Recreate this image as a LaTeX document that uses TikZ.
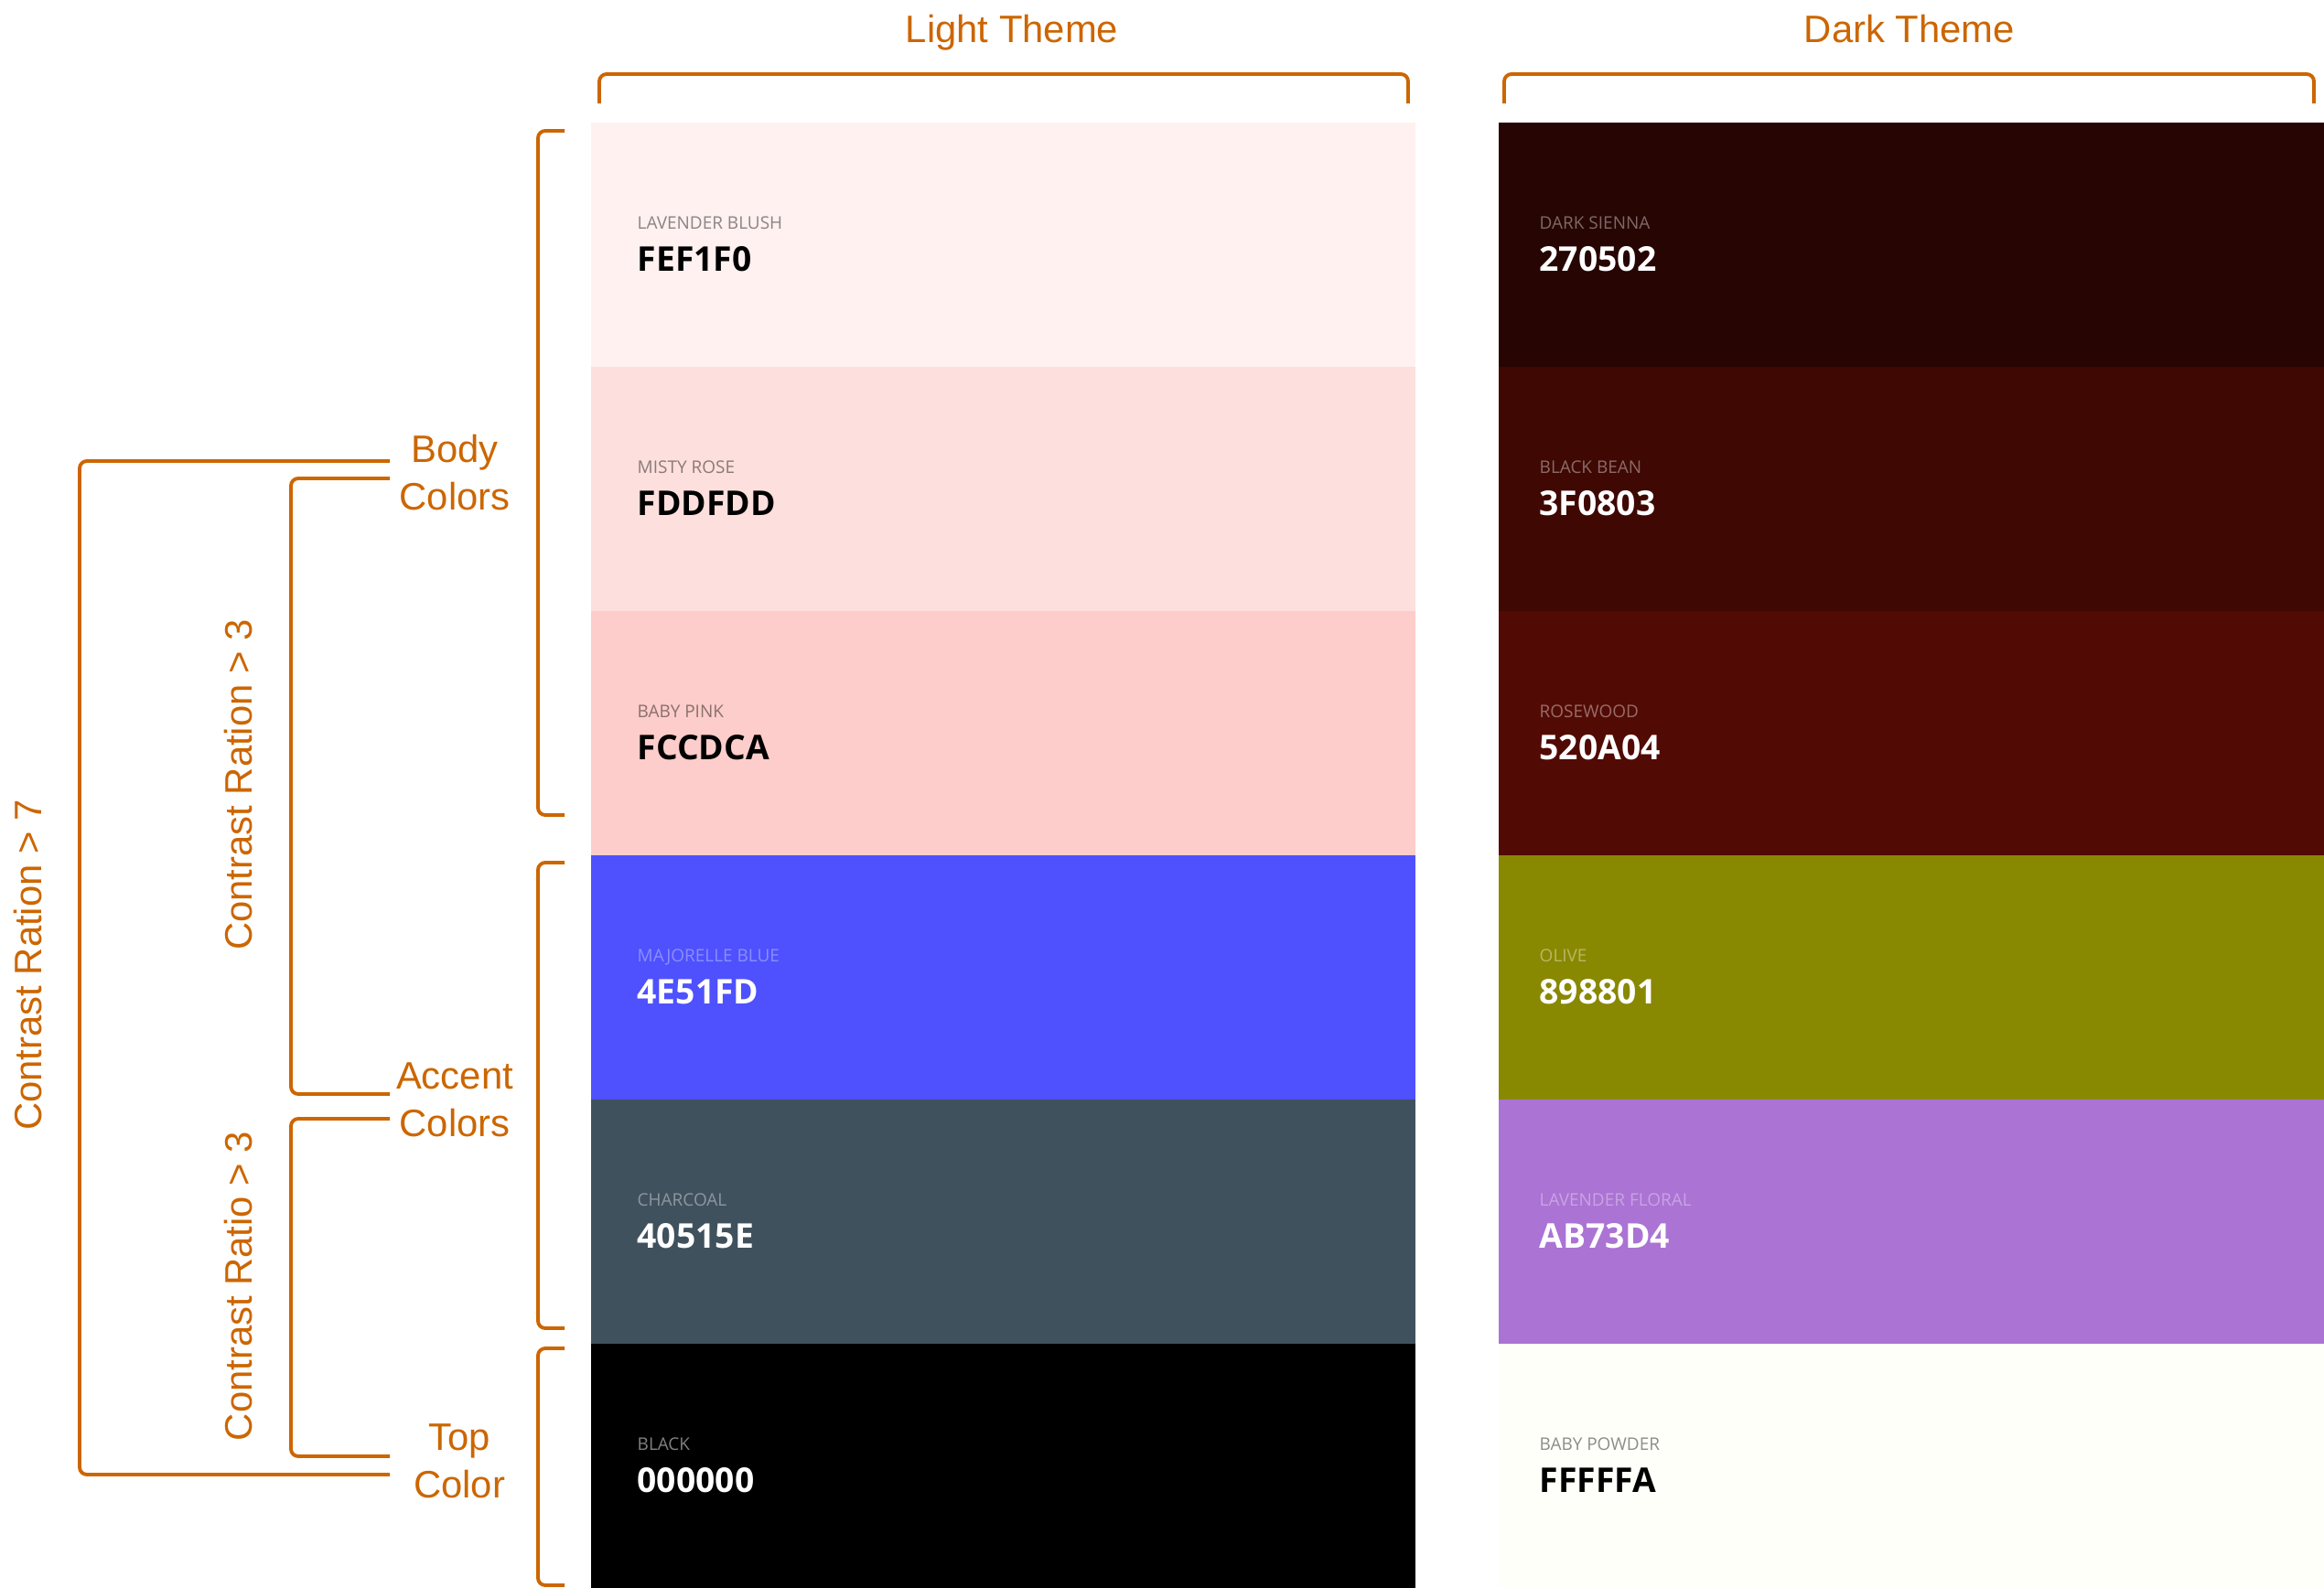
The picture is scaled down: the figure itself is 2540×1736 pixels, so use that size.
\documentclass[tikz,border=0pt]{standalone}
\usepackage{fontspec}
\setmainfont{Liberation Sans}
\newfontfamily\swfont{Open Sans}
\definecolor{accent}{RGB}{204,102,0}
\definecolor{LA}{HTML}{FEF1F0}
\definecolor{LB}{HTML}{FDDFDD}
\definecolor{LC}{HTML}{FCCDCA}
\definecolor{LD}{HTML}{4E51FD}
\definecolor{LE}{HTML}{40515E}
\definecolor{LF}{HTML}{000000}
\definecolor{DA}{HTML}{270502}
\definecolor{DB}{HTML}{3F0803}
\definecolor{DC}{HTML}{520A04}
\definecolor{DD}{HTML}{898801}
\definecolor{DE}{HTML}{AB73D4}
\definecolor{DF}{HTML}{FFFFFA}
\begin{document}
\begin{tikzpicture}[x=0.1mm,y=-0.1mm,
  br/.style={draw=accent, line width=1.1pt, rounded corners=0.8mm},
  lbl/.style={text=accent, font=\fontsize{11.9}{14.8}\selectfont, align=center, inner sep=0},
  ttl/.style={text=accent, font=\fontsize{11.9}{14.8}\selectfont, anchor=base, inner sep=0},
  nmtext/.style={anchor=base west, inner sep=0, font=\swfont\fontsize{5.4}{6}\selectfont},
  hxtext/.style={anchor=base west, inner sep=0, font=\swfont\bfseries\fontsize{10.6}{12}\selectfont}]
\fill[white] (0,0) rectangle (2540,1736);
\useasboundingbox (0,0) rectangle (2540,1736);

% light swatches
\foreach \i/\col/\nm/\hx/\tc/\lc/\lo in {
  0/LA/LAVENDER BLUSH/FEF1F0/black/black/0.45,
  1/LB/MISTY ROSE/FDDFDD/black/black/0.45,
  2/LC/BABY PINK/FCCDCA/black/black/0.45,
  3/LD/MAJORELLE BLUE/4E51FD/white/white/0.35,
  4/LE/CHARCOAL/40515E/white/white/0.4,
  5/LF/BLACK/000000/white/white/0.5}{
  \pgfmathsetmacro{\top}{134+267*\i}
  \fill[\col] (646,\top) rectangle (1547,\top+268);
  \node[nmtext, text=\lc, text opacity=\lo] (ln\i) at (696,\top+116) {\nm};
  \node[hxtext, text=\tc] (lh\i) at (696,\top+162) {\hx};
}
% dark swatches
\foreach \i/\col/\nm/\hx/\tc/\lc/\lo in {
  0/DA/DARK SIENNA/270502/white/white/0.4,
  1/DB/BLACK BEAN/3F0803/white/white/0.4,
  2/DC/ROSEWOOD/520A04/white/white/0.4,
  3/DD/OLIVE/898801/white/white/0.4,
  4/DE/LAVENDER FLORAL/AB73D4/white/white/0.35,
  5/DF/BABY POWDER/FFFFFA/black/black/0.45}{
  \pgfmathsetmacro{\top}{134+267*\i}
  \fill[\col] (1638,\top) rectangle (2540,\top+268);
  \node[nmtext, text=\lc, text opacity=\lo] (dn\i) at (1682,\top+116) {\nm};
  \node[hxtext, text=\tc] (dh\i) at (1682,\top+162) {\hx};
}

% titles
\node[ttl] (lt) at (1106,47) {Light Theme};
\node[ttl] (dt) at (2087,47) {Dark Theme};
\draw[br] (655,113) -- (655,81) -- (1539,81) -- (1539,113);
\draw[br] (1644,113) -- (1644,81) -- (2529,81) -- (2529,113);

% group brackets
\draw[br] (617,143) -- (588,143) -- (588,891) -- (617,891);
\draw[br] (617,943) -- (588,943) -- (588,1452) -- (617,1452);
\draw[br] (617,1474) -- (588,1474) -- (588,1733) -- (617,1733);

% group labels
\node[lbl] (body) at (497,517) {Body\\Colors};
\node[lbl] (acc) at (497,1202) {Accent\\Colors};
\node[lbl] (topc) at (502,1597) {Top\\Color};

% contrast brackets
\coordinate (o1) at (426,504);
\coordinate (o2) at (426,1612);
\coordinate (a1) at (426,523);
\coordinate (a2) at (426,1196);
\coordinate (b1) at (426,1223);
\coordinate (b2) at (426,1592);
\draw[br] (o1) -- (87,504) -- (87,1612) -- (o2);
\draw[br] (a1) -- (318,523) -- (318,1196) -- (a2);
\draw[br] (b1) -- (318,1223) -- (318,1592) -- (b2);

\node[lbl, rotate=90] (cr7) at (31,1055) {Contrast Ration > 7};
\node[lbl, rotate=90] (cr3a) at (261,858) {Contrast Ration > 3};
\node[lbl, rotate=90] (cr3b) at (261,1406) {Contrast Ratio > 3};
\end{tikzpicture}
\end{document}
